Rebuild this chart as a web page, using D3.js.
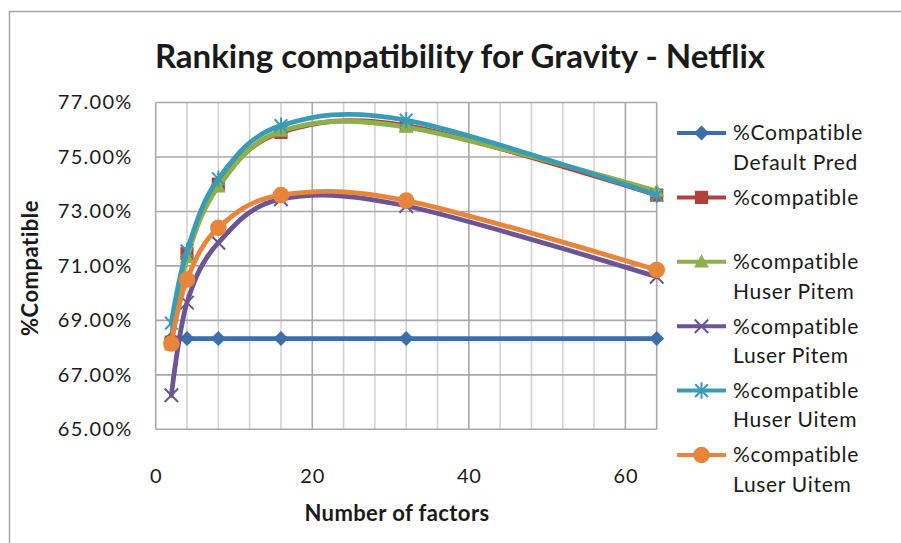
<!DOCTYPE html>
<html>
<head>
<meta charset="utf-8">
<script src="https://cdn.jsdelivr.net/npm/d3@7"></script>
<style>
  html, body { margin: 0; padding: 0; background: #fff; }
  svg { display: block; }
  text { font-family: Lato, "Open Sans", sans-serif; fill: #1a1a1a; }
</style>
</head>
<body>
<svg id="chart" width="901" height="543"></svg>
<script>
// ---- data ----
const factors = [2, 4, 8, 16, 32, 64];
const defaultPred = [68.33, 68.33, 68.33, 68.33, 68.33, 68.33];
const compatible = [68.2, 71.45, 74.0, 75.9, 76.15, 73.6];
const huserPitem = [68.1, 71.3, 73.9, 75.95, 76.1, 73.75];
const luserPitem = [66.25, 69.65, 71.85, 73.45, 73.2, 70.6];
const huserUitem = [68.9, 71.55, 74.2, 76.15, 76.35, 73.6];
const luserUitem = [68.15, 70.5, 72.4, 73.6, 73.4, 70.85];

const seriesNames = [
  ["%Compatible", "Default Pred"],
  ["%compatible", ""],
  ["%compatible", "Huser Pitem"],
  ["%compatible", "Luser Pitem"],
  ["%compatible", "Huser Uitem"],
  ["%compatible", "Luser Uitem"]
];
const seriesValues = [defaultPred, compatible, huserPitem, luserPitem, huserUitem, luserUitem];
const seriesColors = ["#3c6ea7", "#b2413e", "#8db04c", "#6c5495", "#3a9cb4", "#e8853a"];
const seriesMarkers = ["diamond", "square", "triangle", "x", "asterisk", "circle"];
const seriesSmooth = [false, true, true, true, true, true];

const xTicks = [0, 20, 40, 60];
const xMinor = [4, 8, 12, 16, 24, 28, 32, 36, 44, 48, 52, 56];
const yTicks = [65, 67, 69, 71, 73, 75, 77];

const title = "Ranking compatibility for Gravity - Netflix";
const xTitle = "Number of factors";
const yTitle = "%Compatible";

// ---- layout ----
const L = 155.7, R = 656.7, T = 102.5, B = 429.3;
const x = d3.scaleLinear().domain([0, 64]).range([L, R]);
const y = d3.scaleLinear().domain([65, 77]).range([B, T]);

const svg = d3.select("#chart");

// outer chart border (cut off at right/bottom)
svg.append("path")
  .attr("d", `M9.5,560 L9.5,11.5 L920,11.5`)
  .attr("fill", "none").attr("stroke", "#a6a6a6").attr("stroke-width", 1.5);

// title
svg.append("text").attr("x", 460).attr("y", 68)
  .attr("text-anchor", "middle").attr("font-size", 33).attr("font-weight", 700)
  .attr("letter-spacing", 0)
  .text(title);

// gridlines
const grid = svg.append("g");
grid.selectAll("line.minor").data(xMinor).join("line")
  .attr("x1", d => x(d)).attr("x2", d => x(d)).attr("y1", T).attr("y2", B)
  .attr("stroke", "#d3d3d3").attr("stroke-width", 1.6);
grid.selectAll("line.vmaj").data(xTicks.concat([64])).join("line")
  .attr("x1", d => x(d)).attr("x2", d => x(d)).attr("y1", T).attr("y2", B)
  .attr("stroke", "#a8a8a8").attr("stroke-width", 1.6);
grid.selectAll("line.hmaj").data(yTicks).join("line")
  .attr("x1", L).attr("x2", R).attr("y1", d => y(d)).attr("y2", d => y(d))
  .attr("stroke", "#a8a8a8").attr("stroke-width", 1.6);

// axes labels
const yAxis = svg.append("g").attr("transform", `translate(${L},0)`)
  .call(d3.axisLeft(y).tickValues(yTicks).tickSize(0).tickPadding(23)
    .tickFormat(d => d.toFixed(2) + "%"));
yAxis.select(".domain").remove();
yAxis.selectAll("text").attr("font-size", 20).attr("letter-spacing", 1.3)
  .attr("font-family", "Lato").attr("fill", "#1a1a1a");

const xAxis = svg.append("g").attr("transform", `translate(0,${B})`)
  .call(d3.axisBottom(x).tickValues(xTicks).tickSize(0).tickPadding(39.5)
    .tickFormat(d3.format("d")));
xAxis.select(".domain").remove();
xAxis.selectAll("text").attr("font-size", 20).attr("letter-spacing", 0.8)
  .attr("font-family", "Lato").attr("fill", "#1a1a1a");

// axis titles
svg.append("text").attr("x", 397).attr("y", 520.5)
  .attr("text-anchor", "middle").attr("font-size", 22).attr("font-weight", 700)
  .attr("letter-spacing", 0.4)
  .text(xTitle);
svg.append("text").attr("transform", "translate(37.5,268) rotate(-90)")
  .attr("text-anchor", "middle").attr("font-size", 22).attr("font-weight", 700)
  .attr("letter-spacing", 0.5)
  .text(yTitle);

// markers
function markerPath(type, s) {
  switch (type) {
    case "diamond": return `M0,${-s} L${s},0 L0,${s} L${-s},0 Z`;
    case "square": { const h = s * 0.88; return `M${-h},${-h} H${h} V${h} H${-h} Z`; }
    case "triangle": return `M0,${-s} L${s},${s * 0.75} L${-s},${s * 0.75} Z`;
    case "x": { const h = s * 0.9; return `M${-h},${-h} L${h},${h} M${-h},${h} L${h},${-h}`; }
    case "asterisk": { const h = s * 0.85; return `M${-h},${-h} L${h},${h} M${-h},${h} L${h},${-h} M0,${-s * 1.1} L0,${s * 1.1}`; }
  }
  return "";
}
function drawMarker(g, type, color, cx, cy) {
  if (type === "circle") {
    g.append("circle").attr("cx", cx).attr("cy", cy).attr("r", 8.3).attr("fill", color);
  } else if (type === "x" || type === "asterisk") {
    g.append("path").attr("transform", `translate(${cx},${cy})`)
      .attr("d", markerPath(type, 7.5)).attr("fill", "none")
      .attr("stroke", color).attr("stroke-width", 2);
  } else {
    g.append("path").attr("transform", `translate(${cx},${cy})`)
      .attr("d", markerPath(type, 7.5)).attr("fill", color);
  }
}

// series
seriesValues.forEach((vals, i) => {
  const g = svg.append("g");
  const pts = factors.map((f, j) => [f, vals[j]]);
  const line = d3.line().x(d => x(d[0])).y(d => y(d[1]))
    .curve(seriesSmooth[i] ? d3.curveCardinal.tension(0) : d3.curveLinear);
  g.append("path").attr("d", line(pts)).attr("fill", "none")
    .attr("stroke", seriesColors[i]).attr("stroke-width", 4.8)
    .attr("stroke-linejoin", "round").attr("stroke-linecap", "round");
  pts.forEach(p => drawMarker(g, seriesMarkers[i], seriesColors[i], x(p[0]), y(p[1])));
});

// legend
const legY0 = 133, legStep = 64.4, legLine = 29.5;
seriesNames.forEach((lines, i) => {
  const gy = legY0 + i * legStep;
  const g = svg.append("g");
  g.append("line").attr("x1", 677).attr("x2", 726).attr("y1", gy).attr("y2", gy)
    .attr("stroke", seriesColors[i]).attr("stroke-width", 4);
  drawMarker(g, seriesMarkers[i], seriesColors[i], 701.5, gy);
  lines.forEach((t, k) => {
    if (!t) return;
    g.append("text").attr("x", 733).attr("y", gy + k * legLine)
      .attr("dy", "0.35em").attr("font-size", 21).attr("letter-spacing", 0.7)
      .text(t);
  });
});
</script>
</body>
</html>
